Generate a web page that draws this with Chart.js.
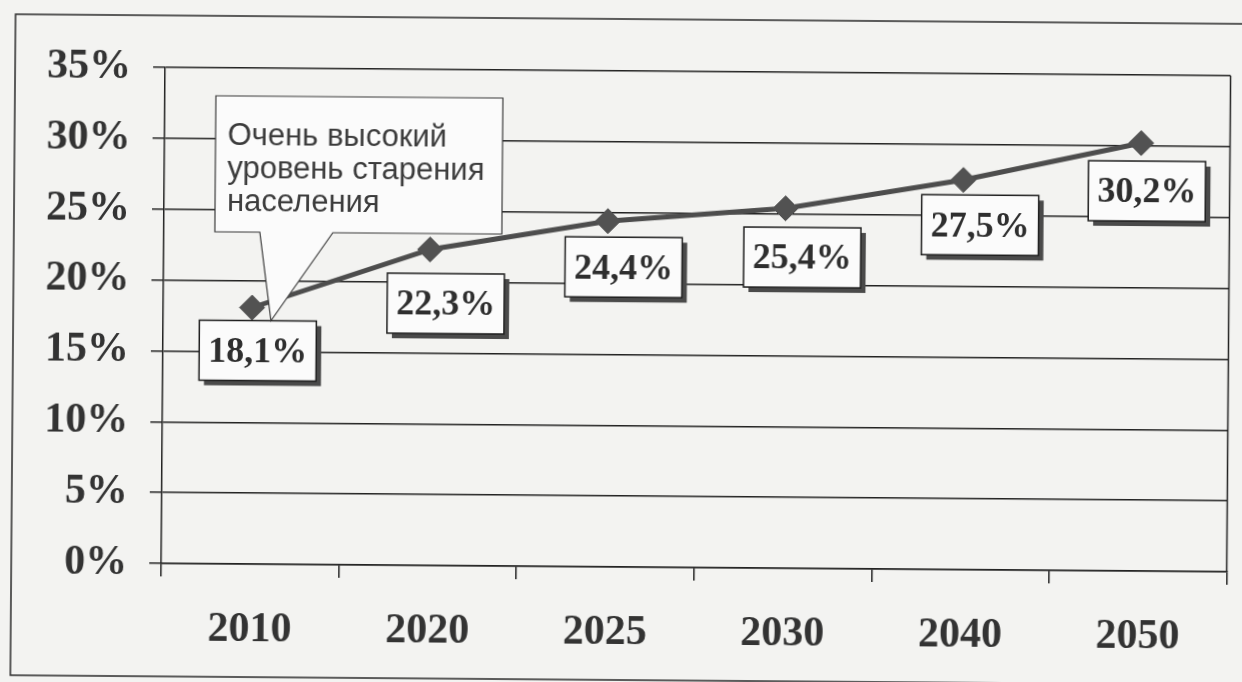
<!DOCTYPE html>
<html lang="ru">
<head>
<meta charset="utf-8">
<title>Уровень старения населения</title>
<script src="https://cdn.jsdelivr.net/npm/chart.js@4.4.1/dist/chart.umd.min.js"></script>
<style>
  html, body { margin: 0; padding: 0; background: #f3f3f1; overflow: hidden; }
  #wrap { width: 1242px; height: 682px; transform: rotate(0.45deg); }
</style>
</head>
<body>
<div id="wrap"><canvas id="grafico" width="1242" height="682"></canvas></div>
<script>
// Годы и доля населения старше 60 лет, %
const years = ['2010', '2020', '2025', '2030', '2040', '2050'];
const shares = [18.1, 22.3, 24.4, 25.4, 27.5, 30.2];
const calloutLines = ['Очень высокий', 'уровень старения', 'населения'];

// смещения подписей относительно маркеров
const labelShift = [[6, 43], [16, 54], [16, 46], [17, 49], [17, 45], [6, 48]];

const serif = '"Liberation Serif", "Times New Roman", serif';
const fmt = v => v.toFixed(1).replace('.', ',') + '%';

// рамка вокруг диаграммы, правая граница области построения,
// подписи значений в рамках с тенью и выноска
const decor = {
    id: 'decor',
    beforeDraw(chart) {
        const ctx = chart.ctx;
        ctx.save();
        ctx.strokeStyle = '#2a2a2a';
        ctx.lineWidth = 1.5;
        ctx.strokeRect(13, 19, 1250, 661);
        ctx.restore();
    },
    afterDatasetsDraw(chart) {
        const ctx = chart.ctx;
        const area = chart.chartArea;
        const meta = chart.getDatasetMeta(0);
        ctx.save();
        ctx.strokeStyle = '#222';
        ctx.lineWidth = 1.5;
        ctx.beginPath();
        ctx.moveTo(area.right, area.top);
        ctx.lineTo(area.right, area.bottom);
        ctx.stroke();

        ctx.font = 'bold 36px ' + serif;
        ctx.textAlign = 'center';
        ctx.textBaseline = 'middle';
        const boxes = [];
        meta.data.forEach((pt, i) => {
            const text = fmt(shares[i]);
            const w = ctx.measureText(text).width + 18;
            const h = 60;
            const x = pt.x + labelShift[i][0] - w / 2;
            const y = pt.y + labelShift[i][1] - h / 2;
            boxes.push({ x, y, w, h });
            ctx.fillStyle = '#4a4a4a';
            ctx.fillRect(x + 5, y + 5, w, h);
            ctx.fillStyle = '#fbfbfb';
            ctx.fillRect(x, y, w, h);
            ctx.strokeStyle = '#1e1e1e';
            ctx.lineWidth = 1.5;
            ctx.strokeRect(x, y, w, h);
            ctx.fillStyle = '#2e2e2e';
            ctx.fillText(text, x + w / 2, y + h / 2 + 2);
        });

        // выноска к 2010 году
        const first = meta.data[0];
        const bx = area.left + 51, by = area.top + 28, bw = 287, bh = 136;
        const tipX = first.x + 19, tipY = boxes[0].y;
        ctx.fillStyle = '#fbfbfb';
        ctx.strokeStyle = '#3a3a3a';
        ctx.lineWidth = 1.2;
        ctx.beginPath();
        ctx.moveTo(bx, by);
        ctx.lineTo(bx + bw, by);
        ctx.lineTo(bx + bw, by + bh);
        ctx.lineTo(bx + 118, by + bh);
        ctx.lineTo(tipX, tipY);
        ctx.lineTo(bx + 45, by + bh);
        ctx.lineTo(bx, by + bh);
        ctx.closePath();
        ctx.fill();
        ctx.stroke();

        ctx.font = '31px "Liberation Sans", Arial, sans-serif';
        ctx.fillStyle = '#3c3c3c';
        ctx.textAlign = 'left';
        ctx.textBaseline = 'alphabetic';
        calloutLines.forEach((line, i) => {
            ctx.fillText(line, bx + 12, by + 49 + i * 33);
        });
        ctx.restore();
    }
};

const ctx = document.getElementById('grafico').getContext('2d');
new Chart(ctx, {
    type: 'line',
    data: {
        labels: years,
        datasets: [{
            data: shares,
            borderColor: '#4d4d4d',
            borderWidth: 5,
            pointStyle: 'rectRot',
            pointRadius: 12.5,
            pointBackgroundColor: '#525252',
            pointBorderColor: '#525252',
            pointBorderWidth: 1,
            tension: 0
        }]
    },
    options: {
        responsive: false,
        animation: false,
        layout: { padding: { top: 71, right: 9, left: 0, bottom: 0 } },
        plugins: {
            legend: { display: false },
            tooltip: { enabled: false }
        },
        scales: {
            x: {
                offset: true,
                afterFit: s => { s.height = 115; },
                grid: {
                    offset: true,
                    drawOnChartArea: false,
                    tickLength: 13,
                    color: '#222',
                    lineWidth: 1.5
                },
                border: { color: '#222', width: 1.5 },
                ticks: {
                    font: { family: serif, size: 42, weight: 'bold' },
                    color: '#333',
                    padding: 28,
                    maxRotation: 0
                }
            },
            y: {
                min: 0,
                max: 35,
                afterFit: s => { s.width = 163; },
                grid: { tickLength: 12, color: '#222', lineWidth: 1.5 },
                border: { color: '#222', width: 1.5 },
                ticks: {
                    stepSize: 5,
                    callback: v => v + '%',
                    font: { family: serif, size: 42, weight: 'bold' },
                    color: '#333',
                    padding: 22
                }
            }
        }
    },
    plugins: [decor]
});
</script>
</body>
</html>
